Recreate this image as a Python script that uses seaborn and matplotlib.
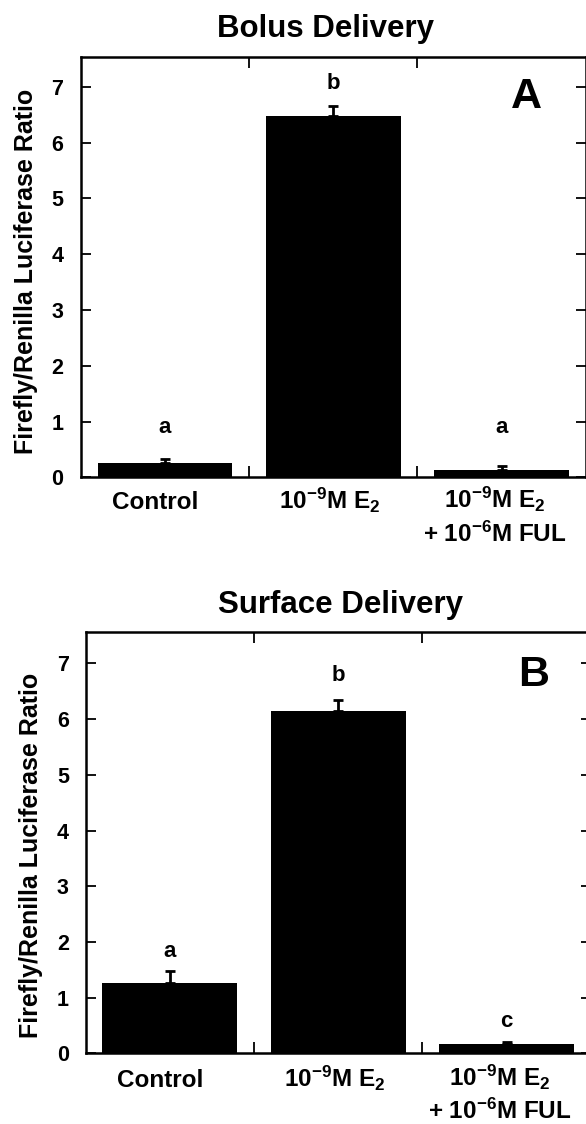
import matplotlib
matplotlib.use("Agg")
import matplotlib.pyplot as plt
import seaborn as sns
import pandas as pd
from matplotlib.ticker import FixedLocator
from matplotlib.transforms import ScaledTranslation

# Treatment groups and luciferase readouts (mean and upper SEM)
groups = ["Control", "10$^{-9}$M E$_2$", "10$^{-9}$M E$_2$\n+ 10$^{-6}$M FUL"]
bolus_mean = [0.26, 6.47, 0.13]
bolus_sem = [0.07, 0.18, 0.08]
surface_mean = [1.27, 6.15, 0.16]
surface_sem = [0.20, 0.19, 0.04]
bolus_letters = ["a", "b", "a"]
surface_letters = ["a", "b", "c"]
panel_titles = ["Bolus Delivery", "Surface Delivery"]
panel_tags = ["A", "B"]
y_ticks = [0, 1, 2, 3, 4, 5, 6, 7]

sns.set_style("ticks")
plt.rcParams["font.family"] = ["Liberation Sans", "DejaVu Sans"]
plt.rcParams["font.weight"] = "bold"
plt.rcParams["mathtext.fontset"] = "custom"
plt.rcParams["mathtext.rm"] = "Liberation Sans:bold"
plt.rcParams["mathtext.it"] = "Liberation Sans:bold"
plt.rcParams["mathtext.bf"] = "Liberation Sans:bold"
plt.rcParams["mathtext.default"] = "rm"
for key in ["text.color", "axes.labelcolor", "xtick.color", "ytick.color",
            "axes.edgecolor"]:
    plt.rcParams[key] = "black"

fig = plt.figure(figsize=(5.86, 11.24), dpi=100)
W, H = 586.0, 1124.0
LINE_PX = 32.5  # distance between the two lines of a category label


def px_axes(left, top, right, bottom):
    return fig.add_axes([left / W, 1 - bottom / H, (right - left) / W, (bottom - top) / H])


panels = [
    dict(box=(80.7, 57.3, 585.7, 477.3), ymax=7.53, mean=bolus_mean, sem=bolus_sem,
         letters=bolus_letters, letter_y=[0.90, 7.06, 0.90],
         title_xy=(326, 36.7), ylab_xy=(26, 271), tag_xy=(2.15, 6.82),
         ypad=12.5, xpad=23),
    dict(box=(85.5, 631.7, 590.9, 1053.3), ymax=7.57, mean=surface_mean, sem=surface_sem,
         letters=surface_letters, letter_y=[1.82, 6.79, 0.57],
         title_xy=(340.5, 613), ylab_xy=(31, 855), tag_xy=(2.16, 6.79),
         ypad=12, xpad=24),
]
label_shift_px = [-10, -4, -7]

for p, title, tag in zip(panels, panel_titles, panel_tags):
    ax = px_axes(*p["box"])
    df = pd.DataFrame({"group": groups, "ratio": p["mean"]})
    sns.barplot(data=df, x="group", y="ratio", ax=ax, color="black",
                saturation=1, width=0.8, errorbar=None, linewidth=0)
    ax.errorbar(range(len(groups)), p["mean"],
                yerr=[[0] * len(groups), p["sem"]], fmt="none",
                ecolor="black", elinewidth=2, capsize=3.6, capthick=2)

    for i, (letter, ly) in enumerate(zip(p["letters"], p["letter_y"])):
        ax.text(i, ly, letter, ha="center", va="center", fontsize=16,
                fontweight="bold", color="black")

    ax.text(p["tag_xy"][0], p["tag_xy"][1], tag, ha="center", va="center",
            fontsize=31, fontweight="bold", color="black")

    ax.set_xlim(-0.5, 2.5)
    ax.set_ylim(0, p["ymax"])
    ax.set_xlabel("")
    ax.set_ylabel("")

    # category labels without ticks; short inward ticks between groups
    ax.set_xticks(range(len(groups)))
    ax.set_xticklabels(groups, fontsize=17.5, fontweight="bold", linespacing=1.35)
    ax.xaxis.set_minor_locator(FixedLocator([0.5, 1.5]))
    ax.tick_params(axis="x", which="major", length=0, pad=p["xpad"])
    ax.tick_params(axis="x", which="minor", direction="in", length=8,
                   width=1.3, top=True, bottom=True)

    ax.set_yticks(y_ticks)
    ax.set_yticklabels([str(t) for t in y_ticks], fontsize=15.5, fontweight="bold")
    ax.tick_params(axis="y", which="major", direction="in", length=7.5,
                   width=1.3, pad=p["ypad"], left=True, right=True)

    for s in ax.spines.values():
        s.set_visible(True)
        s.set_linewidth(1.8)
        s.set_color("black")

    # align category labels on the baseline of their first line, nudged slightly left
    for tick, dx, name in zip(ax.xaxis.get_major_ticks(), label_shift_px, groups):
        extra_lines = name.count("\n")
        tick.label1.set_verticalalignment("baseline")
        tick.label1.set_transform(
            tick.label1.get_transform()
            + ScaledTranslation(dx / 100, -extra_lines * LINE_PX / 100,
                                fig.dpi_scale_trans))

    fig.text(p["title_xy"][0] / W, 1 - p["title_xy"][1] / H, title,
             ha="center", va="baseline", fontsize=22.5, fontweight="bold")
    fig.text(p["ylab_xy"][0] / W, 1 - p["ylab_xy"][1] / H,
             "Firefly/Renilla Luciferase Ratio", rotation=90,
             ha="center", va="center", fontsize=18, fontweight="bold")

fig.savefig("out.png", dpi=100, facecolor="white")
